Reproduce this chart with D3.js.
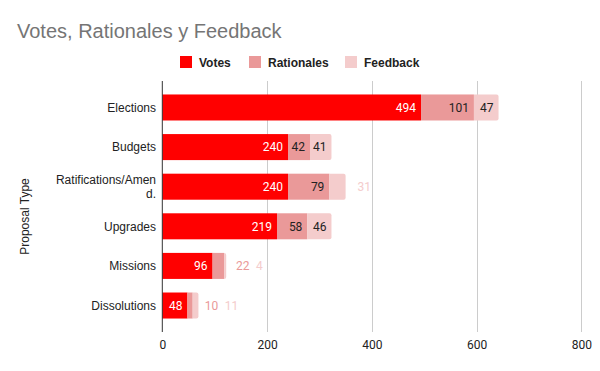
<!DOCTYPE html>
<html>
<head>
<meta charset="utf-8">
<script src="https://cdn.jsdelivr.net/npm/d3@7"></script>
<style>
  html, body { margin: 0; padding: 0; background: #fff; }
  svg { display: block; }
</style>
</head>
<body>
<svg id="chart" width="600" height="371"></svg>
<script>
const categories = ["Elections", "Budgets", "Ratifications/Amend.", "Upgrades", "Missions", "Dissolutions"];
const categoryLines = [["Elections"], ["Budgets"], ["Ratifications/Amen", "d."], ["Upgrades"], ["Missions"], ["Dissolutions"]];
const seriesNames = ["Votes", "Rationales", "Feedback"];
const votes = [494, 240, 240, 219, 96, 48];
const rationales = [101, 42, 79, 58, 22, 10];
const feedback = [47, 41, 31, 46, 4, 11];
const xTicks = [0, 200, 400, 600, 800];
const colors = ["#ff0000", "#ea9999", "#f4cccc"];
const insideTextColors = ["#ffffff", "#222222", "#222222"];
const titleText = "Votes, Rationales y Feedback";
const yAxisTitle = "Proposal Type";

const svg = d3.select("#chart");
const plot = { left: 162.3, right: 581.3, top: 81, bottom: 332 };

const x = d3.scaleLinear().domain([0, 800]).range([plot.left, plot.right]);
const y = d3.scaleBand().domain(categories).range([plot.top, plot.bottom])
  .paddingInner(0.343).paddingOuter(0.34);

// Title
svg.append("text")
  .attr("x", 17).attr("y", 38)
  .attr("font-family", "'Liberation Sans', Arial, sans-serif")
  .attr("font-size", 20).attr("fill", "#757575")
  .text(titleText);

// Legend
const legendItems = [{ sx: 180, tx: 199 }, { sx: 249, tx: 268 }, { sx: 345, tx: 364 }];
const legend = svg.append("g");
seriesNames.forEach((name, i) => {
  legend.append("rect").attr("x", legendItems[i].sx).attr("y", 56).attr("width", 12).attr("height", 12)
    .attr("fill", colors[i]);
  legend.append("text").attr("x", legendItems[i].tx).attr("y", 66.5)
    .attr("font-family", "'Liberation Sans', Arial, sans-serif")
    .attr("font-size", 12).attr("font-weight", "bold").attr("fill", "#222")
    .text(name);
});

// Gridlines
svg.append("g").selectAll("line").data(xTicks.slice(1)).join("line")
  .attr("x1", d => Math.round(x(d)) + 0.5).attr("x2", d => Math.round(x(d)) + 0.5)
  .attr("y1", plot.top).attr("y2", plot.bottom)
  .attr("stroke", "#cccccc").attr("stroke-width", 1);

// X axis via d3.axisBottom
const xAxis = d3.axisBottom(x).tickValues(xTicks).tickSize(0).tickPadding(0).tickFormat(d3.format("d"));
const gx = svg.append("g").attr("transform", `translate(0,${plot.bottom})`).call(xAxis);
gx.select(".domain").remove();
gx.selectAll("text")
  .attr("font-family", "Roboto, sans-serif").attr("font-size", 12).attr("fill", "#222")
  .attr("dy", null).attr("y", 17);

// Stacked data
const rows = categories.map((c, i) => ({ cat: c, vals: [votes[i], rationales[i], feedback[i]] }));

function roundedRightRect(x0, y0, w, h, r) {
  r = Math.min(r, w, h / 2);
  return `M${x0},${y0}H${x0 + w - r}Q${x0 + w},${y0} ${x0 + w},${y0 + r}V${y0 + h - r}Q${x0 + w},${y0 + h} ${x0 + w - r},${y0 + h}H${x0}Z`;
}

const barsG = svg.append("g");
const labelsG = svg.append("g");
rows.forEach(row => {
  let acc = 0;
  const y0 = y(row.cat), h = y.bandwidth(), cy = y0 + h / 2;
  let prevOutsideEnd = -Infinity;
  row.vals.forEach((v, si) => {
    const xs = x(acc), xe = x(acc + v);
    acc += v;
    if (si === 2) {
      barsG.append("path").attr("d", roundedRightRect(xs, y0, xe - xs, h, 2)).attr("fill", colors[si]);
    } else {
      barsG.append("rect").attr("x", xs).attr("y", y0).attr("width", xe - xs).attr("height", h).attr("fill", colors[si]);
    }
    const t = labelsG.append("text")
      .attr("font-family", "Roboto, sans-serif").attr("font-size", 12)
      .attr("y", cy).attr("dy", "0.36em")
      .text(v);
    const tw = t.node().getComputedTextLength();
    if (tw + 6 <= xe - xs) {
      t.attr("x", xe - 5).attr("text-anchor", "end").attr("fill", insideTextColors[si]);
    } else {
      const lx = Math.max(xe + 12, prevOutsideEnd + 6.5);
      t.attr("x", lx).attr("text-anchor", "start").attr("fill", colors[si]);
      prevOutsideEnd = lx + tw;
    }
  });
});

// Vertical axis line
svg.append("line").attr("x1", plot.left).attr("x2", plot.left)
  .attr("y1", plot.top).attr("y2", plot.bottom)
  .attr("stroke", "#333").attr("stroke-width", 1);

// Category labels
const catG = svg.append("g");
categories.forEach((c, i) => {
  const lines = categoryLines[i];
  const cy = y(c) + y.bandwidth() / 2;
  const lh = 14;
  lines.forEach((ln, j) => {
    catG.append("text")
      .attr("x", 156).attr("y", cy + (j - (lines.length - 1) / 2) * lh)
      .attr("dy", "0.36em").attr("text-anchor", "end")
      .attr("font-family", "'Liberation Sans', Arial, sans-serif")
      .attr("font-size", 12).attr("fill", "#222")
      .text(ln);
  });
});

// Y axis title
svg.append("text")
  .attr("transform", `translate(28.5,216.5) rotate(-90)`)
  .attr("text-anchor", "middle")
  .attr("font-family", "'Liberation Sans', Arial, sans-serif")
  .attr("font-size", 12).attr("fill", "#222")
  .text(yAxisTitle);
</script>
</body>
</html>
